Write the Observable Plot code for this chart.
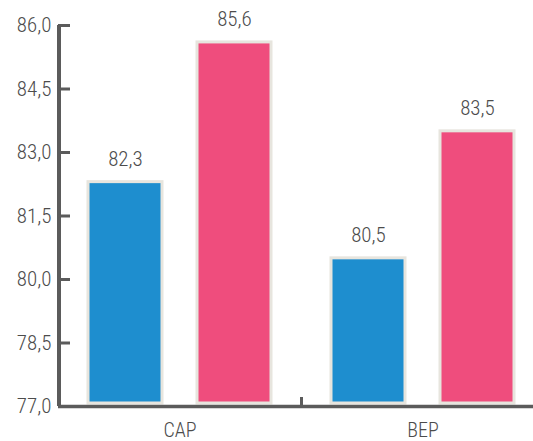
<!DOCTYPE html>
<html><head><meta charset="utf-8">
<script src="https://cdn.jsdelivr.net/npm/d3@7"></script>
<script src="https://cdn.jsdelivr.net/npm/@observablehq/plot@0.6"></script>
<style>body{margin:0;background:#fff}</style>
</head><body><div id="chart"></div>
<script>
const groups = ["CAP", "BEP"];
const series = ["A", "B"];
const valuesA = [82.3, 80.5];
const valuesB = [85.6, 83.5];
const yTicks = [77, 78.5, 80, 81.5, 83, 84.5, 86];
const colors = ["#1e8ecf", "#ef4d7d"];
const yMin = 77, yMax = 86;

const data = groups.flatMap((g, i) => [
  {group: g, series: series[0], value: valuesA[i]},
  {group: g, series: series[1], value: valuesB[i]}
]);
const fmt = d => d.toFixed(1).replace(".", ",");
const font = "'Roboto Condensed', Roboto, sans-serif";
const axisColor = "#5b5b5b";
const textColor = "#4c4c4c";
const W = 533, H = 441, mL = 58, mT = 25, mB = 35;
const fxRange = [mL, 544];
const facetW = (fxRange[1] - fxRange[0]) / groups.length;
const plotH = H - mT - mB;

const chart = Plot.plot({
  width: W, height: H,
  marginTop: mT, marginBottom: mB, marginLeft: mL, marginRight: 0,
  style: {fontFamily: font, fontSize: "21px", fontWeight: 300, color: textColor, background: "#fff", overflow: "hidden"},
  fx: {domain: groups, range: fxRange, padding: 0, label: null},
  x: {domain: series, paddingInner: 0.318, paddingOuter: 0.266, axis: null},
  y: {domain: [yMin, yMax], label: null},
  color: {domain: series, range: colors},
  marks: [
    Plot.barY(data, {fx: "group", x: "series", y1: () => yMin, y2: "value", fill: "series",
      stroke: "#e7e5de", strokeWidth: 3, insetBottom: 3}),
    Plot.text(data, {fx: "group", x: "series", y: "value", text: d => fmt(d.value), dy: -23,
      fill: textColor, fontSize: 21, fontWeight: 300}),
    Plot.ruleY([yMin], {stroke: axisColor, strokeWidth: 3.5}),
    Plot.rect([0], {fx: () => groups[0], y1: () => yMin, y2: () => yMax,
      insetRight: facetW - 3, insetLeft: -1, fill: axisColor}),
    Plot.rect([0], {fx: () => groups[1], y1: () => yMin, y2: () => yMax,
      insetRight: facetW - 2, insetLeft: -1, insetTop: plotH - 9, fill: axisColor}),
    Plot.axisY({ticks: yTicks, tickFormat: fmt, tickSize: -12, tickPadding: 19,
      stroke: axisColor, strokeWidth: 3, fill: textColor, fontSize: 21, fontWeight: 300, label: null}),
    Plot.axisFx({anchor: "bottom", tickSize: 0, tickPadding: 16, fontSize: 20, fontWeight: 300, fill: textColor, label: null})
  ]
});
document.getElementById("chart").append(chart);
</script>
</body></html>
